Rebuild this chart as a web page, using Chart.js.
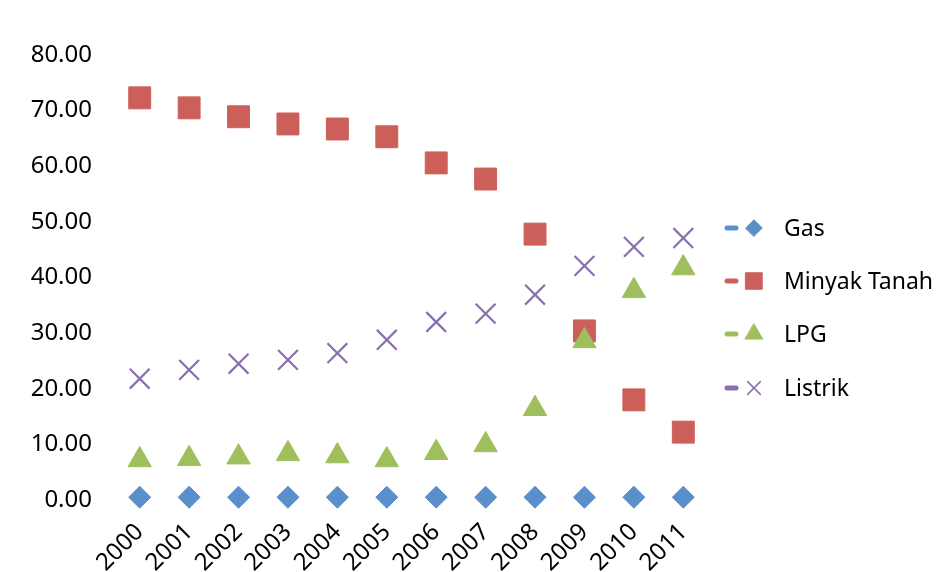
<!DOCTYPE html>
<html>
<head>
<meta charset="utf-8">
<script src="https://cdn.jsdelivr.net/npm/chart.js@4"></script>
<style>
  html, body { margin: 0; padding: 0; background: #fff; }
  #wrap { width: 937px; height: 572px; position: relative; }
</style>
</head>
<body>
<div id="wrap"><canvas id="c" width="937" height="572"></canvas></div>
<script>
// Years on the category axis
const years = ['2000','2001','2002','2003','2004','2005','2006','2007','2008','2009','2010','2011'];

// Share per fuel type, per year
const gas         = [0.5, 0.5, 0.5, 0.5, 0.5, 0.5, 0.5, 0.5, 0.5, 0.5, 0.5, 0.5];
const minyakTanah = [72.3, 70.5, 68.9, 67.6, 66.7, 65.3, 60.6, 57.7, 47.8, 30.4, 18.0, 12.2];
const lpg         = [7.2, 7.4, 7.7, 8.3, 7.9, 7.2, 8.5, 9.9, 16.4, 28.6, 37.6, 41.7];
const listrik     = [21.8, 23.4, 24.5, 25.2, 26.4, 28.8, 32.0, 33.5, 36.9, 42.1, 45.5, 47.1];

// Y-axis range and step
const yMin = 0, yMax = 80, yStep = 10;

const FONT = 'Noto Sans';

const seriesDefs = [
  { label: 'Gas',          data: gas,         color: '#5b8fcb', style: 'rectRot',  radius: 11 },
  { label: 'Minyak Tanah', data: minyakTanah, color: '#cd5f5a', style: 'rect',     radius: 15.5 },
  { label: 'LPG',          data: lpg,         color: '#9fbf5c', style: 'triangle', radius: 13.5 },
  { label: 'Listrik',      data: listrik,     color: '#8a6fb0', style: 'crossRot', radius: 14 }
];

// Legend on the right: short dash, marker, then the name
const sideLegend = {
  id: 'sideLegend',
  afterDraw(chart) {
    const ctx = chart.ctx;
    const rowsY = [228, 281, 334, 388];
    ctx.save();
    seriesDefs.forEach((s, i) => {
      const y = rowsY[i];
      ctx.strokeStyle = s.color;
      ctx.lineCap = 'round';
      ctx.lineWidth = 5;
      ctx.beginPath();
      ctx.moveTo(727, y);
      ctx.lineTo(736, y);
      ctx.stroke();
      ctx.fillStyle = s.color;
      ctx.strokeStyle = s.color;
      ctx.lineWidth = s.style === 'crossRot' ? 1.5 : 1;
      const r = s.style === 'crossRot' ? 9 : s.radius * 0.75;
      Chart.helpers.drawPoint(ctx, { pointStyle: s.style, radius: r, borderWidth: ctx.lineWidth }, 754, y);
      ctx.fillStyle = '#000';
      ctx.font = '23px "' + FONT + '"';
      ctx.textBaseline = 'middle';
      ctx.textAlign = 'left';
      ctx.fillText(s.label, 784, y + 1);
    });
    ctx.restore();
  }
};

new Chart(document.getElementById('c'), {
  type: 'line',
  data: {
    labels: years,
    datasets: seriesDefs.map((s, i) => ({
      label: s.label,
      data: s.data,
      order: seriesDefs.length - i,
      clip: false,
      showLine: false,
      pointStyle: s.style,
      pointRadius: s.radius,
      pointHoverRadius: s.radius,
      backgroundColor: s.color,
      borderColor: s.color,
      pointBorderWidth: s.style === 'crossRot' ? 2.2 : 1
    }))
  },
  options: {
    responsive: false,
    animation: false,
    events: [],
    layout: { padding: { top: 55, right: 229, left: 0, bottom: 0 } },
    plugins: { legend: { display: false }, tooltip: { enabled: false } },
    scales: {
      x: {
        offset: true,
        grid: { display: false, drawTicks: false },
        border: { display: false },
        ticks: {
          color: '#000',
          font: { family: FONT, size: 24 },
          minRotation: 45,
          maxRotation: 45,
          padding: 18,
          autoSkip: false
        },
        afterFit(scale) { scale.height = 72; }
      },
      y: {
        min: yMin,
        max: yMax,
        grid: { display: false, drawTicks: false },
        border: { display: false },
        ticks: {
          stepSize: yStep,
          color: '#000',
          font: { family: FONT, size: 24 },
          padding: 23,
          callback: v => Number(v).toFixed(2)
        },
        afterFit(scale) { scale.width = 115; }
      }
    }
  },
  plugins: [sideLegend]
});
</script>
</body>
</html>
